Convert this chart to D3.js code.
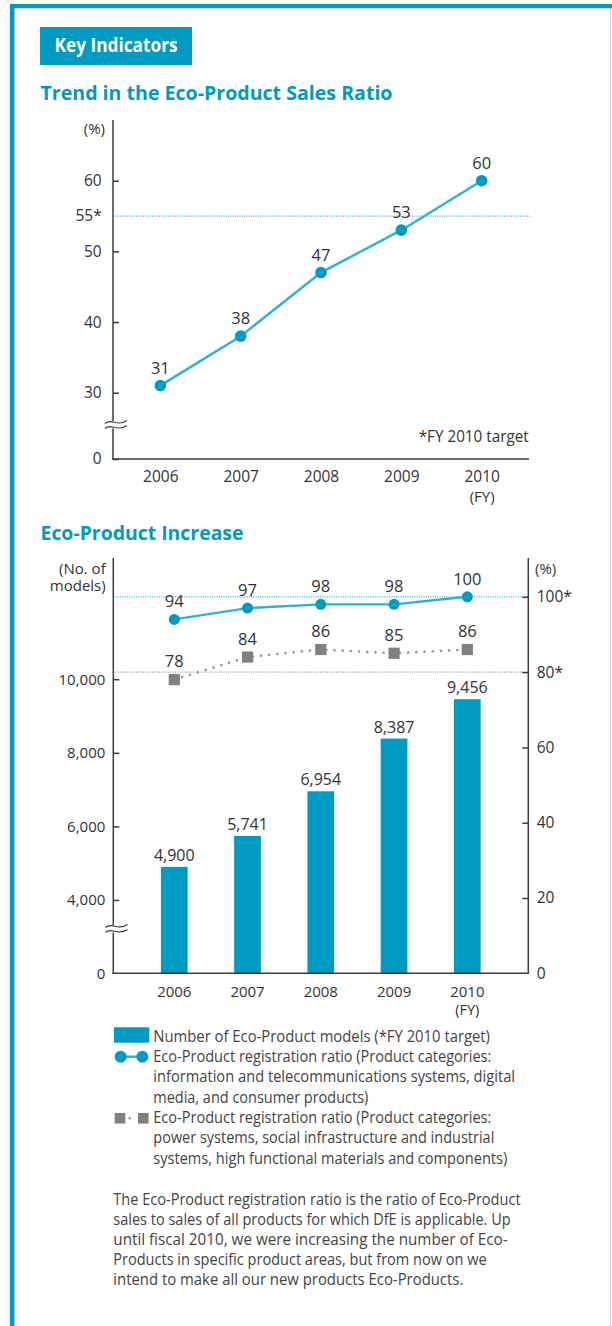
<!DOCTYPE html>
<html><head><meta charset="utf-8">
<script src="https://cdn.jsdelivr.net/npm/d3@7"></script>
<style>
html,body{margin:0;padding:0;background:#fff;}
svg{display:block;font-family:"Open Sans","Noto Sans",sans-serif;}
</style></head>
<body><svg id="c" width="612" height="1326"></svg>
<script>
// ---------- data ----------
const years = ["2006","2007","2008","2009","2010"];
const salesRatio = [31, 38, 47, 53, 60];
const salesTarget = 55;
const ratioTicks = [0, 30, 40, 50, 60];
const models = [4900, 5741, 6954, 8387, 9456];
const ratioInfo = [94, 97, 98, 98, 100];
const ratioPower = [78, 84, 86, 85, 86];
const modelTicks = [0, 4000, 6000, 8000, 10000];
const pctTicks = [0, 20, 40, 60, 80, 100];
const pctTargets = [100, 80];
const legendLines = [
  "Number of Eco-Product models (*FY 2010 target)",
  "Eco-Product registration ratio (Product categories:",
  "information and telecommunications systems, digital",
  "media, and consumer products)",
  "Eco-Product registration ratio (Product categories:",
  "power systems, social infrastructure and industrial",
  "systems, high functional materials and components)"
];
const noteLines = [
  "The Eco-Product registration ratio is the ratio of Eco-Product",
  "sales to sales of all products for which DfE is applicable. Up",
  "until fiscal 2010, we were increasing the number of Eco-",
  "Products in specific product areas, but from now on we",
  "intend to make all our new products Eco-Products."
];

// ---------- style ----------
const TEAL = "#009bc3", LINE = "#2eb1d2", GREY = "#808080", TXT = "#333", AX = "#3c3c3c";
const svg = d3.select("#c");
const fit = (sel, w) => sel.attr("textLength", w).attr("lengthAdjust", "spacingAndGlyphs");

// frame
svg.append("rect").attr("x", 10).attr("y", 4).attr("width", 602).attr("height", 4.3).attr("fill", TEAL);
svg.append("rect").attr("x", 10).attr("y", 4).attr("width", 4.5).attr("height", 1322).attr("fill", TEAL);
svg.append("line").attr("x1", 610.5).attr("x2", 610.5).attr("y1", 8).attr("y2", 1326).attr("stroke", "#b5dfec").attr("stroke-width", 1);

// header
svg.append("rect").attr("x", 40).attr("y", 27).attr("width", 152).attr("height", 38).attr("fill", TEAL);
fit(svg.append("text").attr("x", 54.6).attr("y", 51.7).attr("fill", "#fff").attr("font-weight", 700)
  .attr("font-size", 19).text("Key Indicators"), 123);
fit(svg.append("text").attr("x", 40.5).attr("y", 100).attr("fill", "#0099c2").attr("font-weight", 700)
  .attr("font-size", 19.5).text("Trend in the Eco-Product Sales Ratio"), 352);
fit(svg.append("text").attr("x", 40.5).attr("y", 540).attr("fill", "#0099c2").attr("font-weight", 700)
  .attr("font-size", 19.5).text("Eco-Product Increase"), 203);

function breakMark(g, x, y) {
  g.append("path").attr("d", `M${x-10},${y-3} L${x+12},${y-6} L${x+12},${y+1} L${x-10},${y+4} Z`).attr("fill", "#fff");
  [-3, 2].forEach(o => g.append("path")
    .attr("d", `M${x-10},${y+o+1} C${x-4},${y+o-5} ${x+2},${y+o+5} ${x+12},${y+o-2}`)
    .attr("fill", "none").attr("stroke", AX).attr("stroke-width", 1.1));
}
function styleTicks(g, fs) {
  g.select(".domain").remove();
  g.selectAll(".tick line").attr("stroke", AX).attr("stroke-width", 1.5);
  g.selectAll(".tick text").attr("fill", TXT).attr("font-size", fs);
  g.attr("font-family", null).attr("font-size", fs);
}
function addFY(g, fs, baseY) {
  g.selectAll(".tick").filter(d => d === "2010").append("text")
    .attr("y", baseY).attr("text-anchor", "middle").attr("fill", TXT).attr("font-size", fs).text("(FY)");
}

// ---------- chart 1 ----------
const c1 = svg.append("g");
const x1 = d3.scalePoint().domain(years).range([113, 529]).padding(0.589);
const y1 = d3.scaleLinear().domain([0, 30, 60]).range([459, 392.7, 180.7]);

c1.append("line").attr("x1", 113).attr("x2", 530).attr("y1", y1(salesTarget)).attr("y2", y1(salesTarget))
  .attr("stroke", LINE).attr("stroke-width", 1.2).attr("stroke-dasharray", "1,1.3");

const gy1 = c1.append("g").attr("transform", "translate(113,0)")
  .call(d3.axisLeft(y1).tickValues(ratioTicks).tickSizeInner(-6).tickSizeOuter(0).tickPadding(11.3));
styleTicks(gy1, 15.5);
gy1.append("text").attr("x", -11.3).attr("y", y1(salesTarget)).attr("dy", "0.32em").attr("text-anchor", "end")
  .attr("fill", TXT).attr("font-size", 15.5).text(salesTarget + "*");
c1.append("line").attr("x1", 113).attr("x2", 113).attr("y1", 120).attr("y2", 459.75).attr("stroke", AX).attr("stroke-width", 1.5);
const gx1 = c1.append("g").attr("transform", "translate(0,459)")
  .call(d3.axisBottom(x1).tickSize(0).tickPadding(12.4));
styleTicks(gx1, 15.5);
addFY(gx1, 15, 42.5);
c1.append("line").attr("x1", 112.25).attr("x2", 529).attr("y1", 459).attr("y2", 459).attr("stroke", AX).attr("stroke-width", 1.5);
breakMark(c1, 115, 425.5);

c1.append("text").attr("x", 105).attr("y", 134).attr("text-anchor", "end").attr("fill", TXT).attr("font-size", 15).text("(%)");
fit(c1.append("text").attr("x", 528.7).attr("y", 442.3).attr("text-anchor", "end").attr("fill", TXT).attr("font-size", 15.5)
  .text("*FY 2010 target"), 110);

c1.append("path").datum(salesRatio)
  .attr("d", d3.line().x((d, i) => x1(years[i])).y(d => y1(d)))
  .attr("fill", "none").attr("stroke", LINE).attr("stroke-width", 2.4);
c1.selectAll("circle.m").data(salesRatio).join("circle").attr("class", "m")
  .attr("cx", (d, i) => x1(years[i])).attr("cy", d => y1(d)).attr("r", 5.8).attr("fill", TEAL);
c1.selectAll("text.v").data(salesRatio).join("text").attr("class", "v")
  .attr("x", (d, i) => x1(years[i])).attr("y", d => y1(d) - 12).attr("text-anchor", "middle")
  .attr("fill", TXT).attr("font-size", 16.5).text(d => d);

// ---------- chart 2 ----------
const c2 = svg.append("g");
const x2 = d3.scaleBand().domain(years).range([113.3, 528.3]).paddingInner(0.635).paddingOuter(0.65);
const yL = d3.scaleLinear().domain([0, 4000, 10000]).range([973.3, 900, 679.2]);
const yR = d3.scaleLinear().domain([0, 100]).range([973.3, 596.8]);

c2.append("line").attr("x1", 113).attr("x2", 528).attr("y1", yR(100)).attr("y2", yR(100))
  .attr("stroke", LINE).attr("stroke-width", 1.2).attr("stroke-dasharray", "1,1.3");
c2.append("line").attr("x1", 113).attr("x2", 528).attr("y1", yR(80)).attr("y2", yR(80))
  .attr("stroke", "#9a9a9a").attr("stroke-width", 1.2).attr("stroke-dasharray", "1,1.3");

c2.selectAll("rect.b").data(models).join("rect").attr("class", "b")
  .attr("x", (d, i) => x2(years[i])).attr("width", x2.bandwidth())
  .attr("y", d => yL(d)).attr("height", d => yL(0) - yL(d)).attr("fill", TEAL);
c2.selectAll("text.bv").data(models).join("text").attr("class", "bv")
  .attr("x", (d, i) => x2(years[i]) + x2.bandwidth() / 2).attr("y", d => yL(d) - 6)
  .attr("text-anchor", "middle").attr("fill", TXT).attr("font-size", 16).text(d3.format(","));

const gyL = c2.append("g").attr("transform", "translate(113.3,0)")
  .call(d3.axisLeft(yL).tickValues(modelTicks).tickFormat(d3.format(",")).tickSizeInner(-6).tickSizeOuter(0).tickPadding(8));
styleTicks(gyL, 15);
const gyR = c2.append("g").attr("transform", "translate(528.3,0)")
  .call(d3.axisRight(yR).tickValues(pctTicks).tickFormat(d => pctTargets.includes(d) ? d + "*" : d).tickSizeInner(-6).tickSizeOuter(0).tickPadding(8.4));
styleTicks(gyR, 15.5);
gyL.selectAll(".tick line").filter(d => d === 0).remove();
gyR.selectAll(".tick line").filter(d => d === 0).remove();
c2.append("line").attr("x1", 113.3).attr("x2", 113.3).attr("y1", 558).attr("y2", 974).attr("stroke", AX).attr("stroke-width", 1.5);
c2.append("line").attr("x1", 528.3).attr("x2", 528.3).attr("y1", 558).attr("y2", 974).attr("stroke", AX).attr("stroke-width", 1.5);
const gx2 = c2.append("g").attr("transform", "translate(0,973.3)")
  .call(d3.axisBottom(x2).tickSize(0).tickPadding(12.6));
styleTicks(gx2, 15);
addFY(gx2, 14.5, 42);
c2.append("line").attr("x1", 112.5).attr("x2", 529).attr("y1", 973.3).attr("y2", 973.3).attr("stroke", AX).attr("stroke-width", 1.5);
breakMark(c2, 115.5, 929.5);

c2.append("text").attr("x", 105.7).attr("y", 573.5).attr("text-anchor", "end").attr("fill", TXT).attr("font-size", 15).text("(No. of");
c2.append("text").attr("x", 105.7).attr("y", 591).attr("text-anchor", "end").attr("fill", TXT).attr("font-size", 15).text("models)");
c2.append("text").attr("x", 535).attr("y", 573.5).attr("fill", TXT).attr("font-size", 15).text("(%)");

const cx = (i) => x2(years[i]) + x2.bandwidth() / 2;
c2.append("path").datum(ratioPower)
  .attr("d", d3.line().x((d, i) => cx(i)).y(d => yR(d)))
  .attr("fill", "none").attr("stroke", "#999").attr("stroke-width", 2.7)
  .attr("stroke-linecap", "round").attr("stroke-dasharray", "0,8.2");
c2.selectAll("rect.s").data(ratioPower).join("rect").attr("class", "s")
  .attr("x", (d, i) => cx(i) - 5.6).attr("y", d => yR(d) - 5.6).attr("width", 11.2).attr("height", 11.2).attr("fill", GREY);
c2.selectAll("text.sv").data(ratioPower).join("text").attr("class", "sv")
  .attr("x", (d, i) => cx(i)).attr("y", d => yR(d) - 12.5).attr("text-anchor", "middle")
  .attr("fill", TXT).attr("font-size", 16.5).text(d => d);
c2.append("path").datum(ratioInfo)
  .attr("d", d3.line().x((d, i) => cx(i)).y(d => yR(d)))
  .attr("fill", "none").attr("stroke", LINE).attr("stroke-width", 2.4);
c2.selectAll("circle.m").data(ratioInfo).join("circle").attr("class", "m")
  .attr("cx", (d, i) => cx(i)).attr("cy", d => yR(d)).attr("r", 5.5).attr("fill", TEAL);
c2.selectAll("text.mv").data(ratioInfo).join("text").attr("class", "mv")
  .attr("x", (d, i) => cx(i)).attr("y", d => yR(d) - 12).attr("text-anchor", "middle")
  .attr("fill", TXT).attr("font-size", 16.5).text(d => d);

// ---------- legend ----------
const lg = svg.append("g");
const legendW = [336.7, 338, 361.7, 215, 338, 341, 354];
lg.selectAll("text").data(legendLines).join("text")
  .attr("x", 153.3).attr("y", (d, i) => 1041.8 + i * 20.3).attr("fill", "#444").attr("font-size", 15.5)
  .text(d => d).each(function (d, i) { fit(d3.select(this), legendW[i]); });
lg.append("rect").attr("x", 114).attr("y", 1027.3).attr("width", 35.3).attr("height", 15.4).attr("fill", TEAL);
lg.append("line").attr("x1", 120.7).attr("x2", 142.3).attr("y1", 1056.7).attr("y2", 1056.7).attr("stroke", LINE).attr("stroke-width", 2.4);
[120.7, 142.3].forEach(x => lg.append("circle").attr("cx", x).attr("cy", 1056.7).attr("r", 6).attr("fill", TEAL));
[114.7, 138].forEach(x => lg.append("rect").attr("x", x).attr("y", 1113).attr("width", 10.6).attr("height", 10.6).attr("fill", GREY));
lg.append("line").attr("x1", 129.5).attr("x2", 134).attr("y1", 1118.3).attr("y2", 1118.3)
  .attr("stroke", "#999").attr("stroke-width", 2.4).attr("stroke-linecap", "round").attr("stroke-dasharray", "0,4.5");

// ---------- note ----------
const noteW = [407.3, 397.3, 394.3, 373.3, 350];
svg.append("g").selectAll("text").data(noteLines).join("text")
  .attr("x", 113.3).attr("y", (d, i) => 1205 + i * 20).attr("fill", "#444").attr("font-size", 15.5)
  .text(d => d).each(function (d, i) { fit(d3.select(this), noteW[i]); });
</script></body></html>
